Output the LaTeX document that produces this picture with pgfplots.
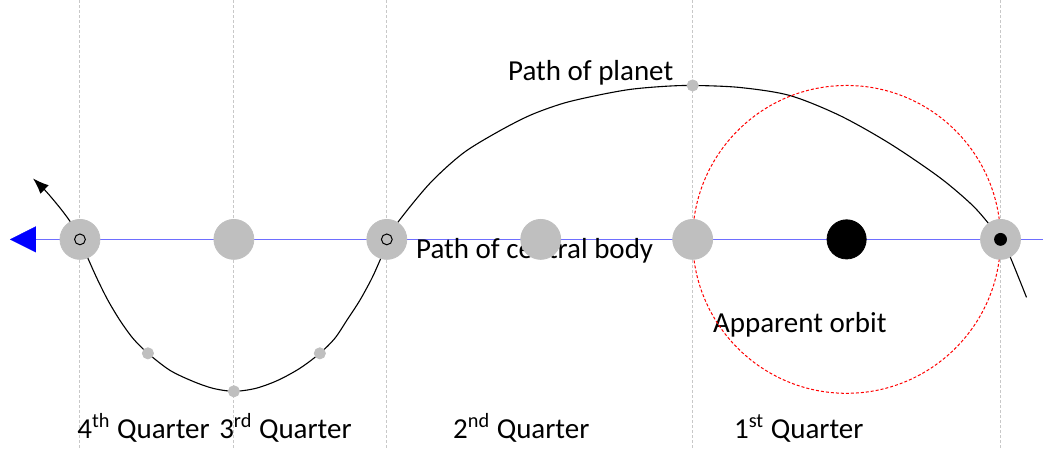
\documentclass[border=0pt]{standalone}
\usepackage{pgfplots}
\pgfplotsset{compat=1.18}
\usepackage{fontspec}
\setmainfont{Carlito}
\usetikzlibrary{arrows.meta}
\definecolor{cgray}{RGB}{191,191,191}
\definecolor{vgray}{RGB}{200,200,200}
\definecolor{lblue}{RGB}{110,110,255}
\tikzset{lbl/.style={anchor=base west, inner sep=0pt, font=\fontsize{14.5}{17}\selectfont}}
\begin{document}
\begin{tikzpicture}
\begin{axis}[
  x=0.5pt, y=0.5pt,
  xmin=0, xmax=1043, ymin=0, ymax=448,
  y dir=reverse,
  hide axis, clip=false,
]
\path (rel axis cs:0,0) rectangle (rel axis cs:1,1);
% vertical guides
\pgfplotsinvokeforeach{80,234,387,693,1001}{
  \addplot[draw=vgray, line width=0.5pt, dash pattern=on 1.5pt off 1pt] coordinates {(#1,0) (#1,448)};
}
% central body path
\addplot[draw=lblue, line width=0.5pt] coordinates {(30,239) (1043,239)};
\addplot[draw=blue, fill=blue, solid, line width=0.1pt, {Triangle[length=13pt,width=13pt]}-] coordinates {(10,239) (30,239)};
% apparent orbit
\addplot[red, only marks, mark=o, mark size=77pt, mark options={line width=0.5pt, dash pattern=on 1.5pt off 1pt}] coordinates {(847,239)};
% gray body at 1001 (under path)
\addplot[cgray, only marks, mark=*, mark size=10pt] coordinates {(1001,239)};
% planet path
\addplot[draw=black, line width=0.55pt, smooth, {Latex[length=8pt,width=6pt]}-] coordinates {
(33,178) (47,192) (62,210) (72,224) (80,240) (88,258) (97,278) (108,300) (120,320) (133,338)
(148,353) (170,370) (193,381) (213,388) (234,391) (256,388) (278,380) (300,368) (320,353)
(335,338) (347,320) (360,300) (372,278) (381,258) (389,239) (398,222) (430,183) (463,153)
(497,132) (530,115) (563,103) (597,95) (630,89) (663,86) (693,85) (740,87) (790,95)
(840,115) (890,143) (940,177) (973,205) (993,228) (1002,240) (1010,255) (1027,297)
};
% gray bodies
\addplot[cgray, only marks, mark=*, mark size=10pt] coordinates {
(80,239) (234,239) (387,239) (541,239) (693,239)
};
% central body
\addplot[black, only marks, mark=*, mark size=9.8pt] coordinates {(847,239)};
% planet markers
\addplot[cgray, only marks, mark=*, mark size=2.8pt] coordinates {
(693,85) (148,353) (320,353) (234,391)
};
\addplot[black, only marks, mark=*, mark size=3pt] coordinates {(1001,239)};
\addplot[black, only marks, mark=o, mark size=2.7pt, mark options={line width=0.5pt}] coordinates {(80,239) (387,239)};
% labels
\node[lbl] at (axis cs:508,80) {Path of planet};
\node[lbl] at (axis cs:416,258) {Path of central body};
\node[lbl] at (axis cs:713,332) {Apparent orbit};
\node[lbl] at (axis cs:77,438) {4\textsuperscript{th} Quarter};
\node[lbl] at (axis cs:219,438) {3\textsuperscript{rd} Quarter};
\node[lbl] at (axis cs:453,438) {2\textsuperscript{nd} Quarter};
\node[lbl] at (axis cs:734,438) {1\textsuperscript{st} Quarter};
\end{axis}
\end{tikzpicture}
\end{document}
